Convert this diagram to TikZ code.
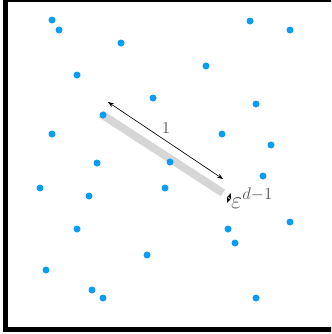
\documentclass[tikz,border=0pt]{standalone}
\usepackage{tikz}
\usetikzlibrary{arrows.meta, positioning, calc}
\definecolor{dotblue}{HTML}{0A9DF5}
\definecolor{bargray}{HTML}{D6D6D6}
\definecolor{labgray}{HTML}{555555}

\begin{document}
\begin{tikzpicture}[x=0.03cm, y=-0.03cm,
    pt/.style={circle, fill=dotblue, inner sep=0pt, minimum size=0.21cm},
    measure/.style={{Stealth[length=5pt]}-{Stealth[length=5pt]}, line width=0.55pt},
    lab/.style={text=labgray, font=\Large}]
  \useasboundingbox (0,0) rectangle (331,334);
  \clip (0,0) rectangle (331,334);
  % frame
  \draw[line width=4.3pt] (5.5,-0.5) rectangle (340,329.5);
  % the tube
  \coordinate (barA) at (101,114);
  \coordinate (barB) at (223,193);
  \draw[bargray, line width=6.8pt] (barA) -- (barB);
  % points
  \foreach \x/\y [count=\i] in {52/20, 59/30, 250/21, 290/30, 121/43, 206/66, 77/75,
      153/98, 256/104, 103/115, 52/134, 222/134, 271/145, 97/163, 170/162,
      263/176, 40/188, 165/188, 89/196, 290/222, 77/229, 228/229, 235/243,
      147/255, 46/270, 92/290, 103/298, 256/298} {
    \node[pt] (p\i) at (\x,\y) {};
  }
  % length of the tube
  \coordinate (lenA) at (108,102);
  \coordinate (lenB) at (223,179);
  \draw[measure] (lenA) -- (lenB);
  \node[lab] (one) at (166,128) {1};
  % width of the tube
  \coordinate (widA) at (227,203);
  \coordinate (widB) at (231,193);
  \draw[measure] (widA) -- (widB);
  \node[lab, font=\huge, anchor=base west, inner sep=0pt] (eps) at ($(widA)+(4,5)$) {$\varepsilon^{d-1}$};
\end{tikzpicture}
\end{document}
